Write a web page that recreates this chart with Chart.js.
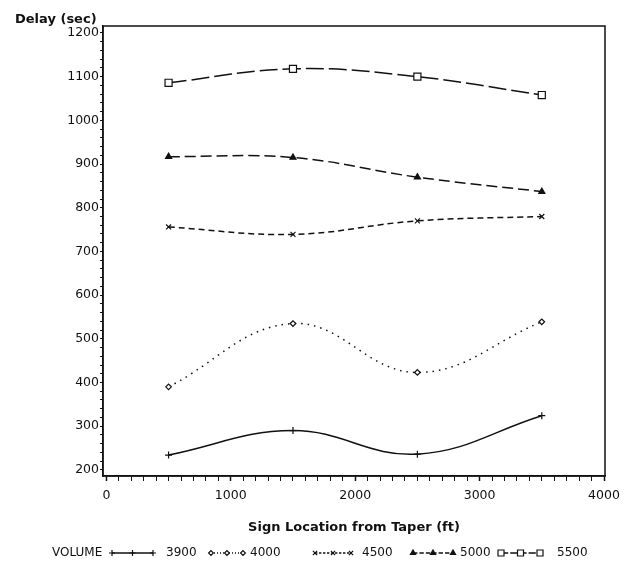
<!DOCTYPE html>
<html>
<head>
<meta charset="utf-8">
<script src="https://cdn.jsdelivr.net/npm/chart.js@4/dist/chart.umd.min.js"></script>
<style>
  html, body { margin: 0; padding: 0; background: #fff; }
  canvas { display: block; }
</style>
</head>
<body>
<canvas id="delayChart" width="635" height="561"></canvas>
<script>
// sign positions (ft) and delay per traffic volume
const signLocations = [500, 1500, 2500, 3500];
const volumes = ["3900", "4000", "4500", "5000", "5500"];
const delay3900 = [234, 290, 236, 324];
const delay4000 = [390, 535, 423, 539];
const delay4500 = [756, 739, 770, 780];
const delay5000 = [917, 915, 870, 837];
const delay5500 = [1086, 1118, 1100, 1058];

const INK = "#111";
const FONT = "DejaVu Sans";

function toPoints(values) {
  return values.map((v, i) => ({ x: signLocations[i], y: v }));
}

function range(from, to, step) {
  const out = [];
  for (let v = from; v <= to; v += step) out.push({ value: v });
  return out;
}

const seriesStyles = [
  { data: delay3900, dash: [], pointStyle: "cross", radius: 3.5, fill: INK },
  { data: delay4000, dash: [1.5, 5], pointStyle: "rectRot", radius: 2.8, fill: "#fff" },
  { data: delay4500, dash: [6, 4], pointStyle: "crossRot", radius: 3.5, fill: INK },
  { data: delay5000, dash: [11, 5], pointStyle: "triangle", radius: 3.5, fill: INK },
  { data: delay5500, dash: [18, 5], pointStyle: "rect", radius: 5, fill: "#fff" },
];

const datasets = seriesStyles.map((s, i) => ({
  label: volumes[i],
  data: toPoints(s.data),
  borderColor: INK,
  borderWidth: 1.5,
  borderDash: s.dash,
  tension: 0.4,
  pointStyle: s.pointStyle,
  pointRadius: s.radius,
  pointBorderWidth: 1.2,
  pointBorderColor: INK,
  pointBackgroundColor: s.fill,
}));

// legend sample start/end and label positions along the bottom row
const legendSampleX = [112, 211, 315, 413, 501];
const legendSampleEnd = [153, 243, 351, 453, 540];
const legendTextX = [166, 250, 362, 460, 557];

const framePlugin = {
  id: "frame",
  beforeDatasetsDraw(chart) {
    const { ctx, chartArea: a } = chart;
    ctx.save();
    ctx.strokeStyle = INK;
    ctx.lineWidth = 1.5;
    ctx.strokeRect(a.left, a.top, a.right - a.left, a.bottom - a.top);
    ctx.restore();
  },
  afterDraw(chart) {
    const ctx = chart.ctx;
    ctx.save();
    ctx.fillStyle = INK;
    ctx.textBaseline = "middle";
    ctx.textAlign = "left";
    ctx.font = `bold 13px ${FONT}`;
    ctx.fillText("Delay (sec)", 15, 20);

    const y = 553;
    ctx.font = `12px ${FONT}`;
    ctx.fillText("VOLUME", 52, y);

    chart.data.datasets.forEach((ds, i) => {
      const x0 = legendSampleX[i];
      const x1 = legendSampleEnd[i];
      ctx.strokeStyle = INK;
      ctx.lineWidth = 1.3;
      ctx.setLineDash(ds.borderDash.map((d) => Math.max(1, d * 0.4)));
      ctx.beginPath();
      ctx.moveTo(x0, y);
      ctx.lineTo(x1, y);
      ctx.stroke();
      ctx.setLineDash([]);
      [x0, (x0 + x1) / 2, x1].forEach((px) => {
        ctx.fillStyle = ds.pointBackgroundColor;
        ctx.strokeStyle = INK;
        ctx.lineWidth = 1.2;
        Chart.helpers.drawPoint(
          ctx,
          { pointStyle: ds.pointStyle, radius: ds.pointRadius * 0.85, rotation: 0, borderWidth: 1.2 },
          px,
          y
        );
      });
      ctx.fillStyle = INK;
      ctx.fillText(ds.label, legendTextX[i], y);
    });
    ctx.restore();
  },
};

new Chart(document.getElementById("delayChart"), {
  type: "line",
  data: { datasets },
  plugins: [framePlugin],
  options: {
    responsive: false,
    animation: false,
    devicePixelRatio: 1,
    layout: { padding: { top: 26, right: 30, left: 0, bottom: 0 } },
    plugins: {
      legend: { display: false },
      tooltip: { enabled: false },
    },
    scales: {
      x: {
        type: "linear",
        min: -27,
        max: 4008,
        afterBuildTicks: (s) => { s.ticks = range(0, 4000, 100); },
        afterFit: (s) => { s.height = 85; },
        ticks: {
          autoSkip: false,
          maxRotation: 0,
          padding: 7,
          color: INK,
          font: { family: FONT, size: 12.5 },
          callback: (v) => (v % 1000 === 0 ? String(v) : ""),
        },
        grid: {
          drawOnChartArea: false,
          drawTicks: true,
          tickLength: 5,
          color: INK,
          tickWidth: (c) => (c.tick && c.tick.value % 1000 === 0 ? 1.5 : 1),
        },
        border: { display: true, color: INK, width: 1.5 },
        title: {
          display: true,
          text: "Sign Location from Taper (ft)",
          color: INK,
          font: { family: FONT, size: 13, weight: "bold" },
          padding: { top: 0, bottom: 26 },
        },
      },
      y: {
        type: "linear",
        min: 186,
        max: 1216,
        afterBuildTicks: (s) => { s.ticks = range(200, 1200, 20); },
        afterFit: (s) => { s.width = 103; },
        ticks: {
          autoSkip: false,
          padding: 1,
          color: INK,
          font: { family: FONT, size: 12.5 },
          callback: (v) => (v % 100 === 0 ? String(v) : ""),
        },
        grid: {
          drawOnChartArea: false,
          drawTicks: true,
          tickLength: 3,
          color: INK,
        },
        border: { display: true, color: INK, width: 1.5 },
      },
    },
  },
});
</script>
</body>
</html>
